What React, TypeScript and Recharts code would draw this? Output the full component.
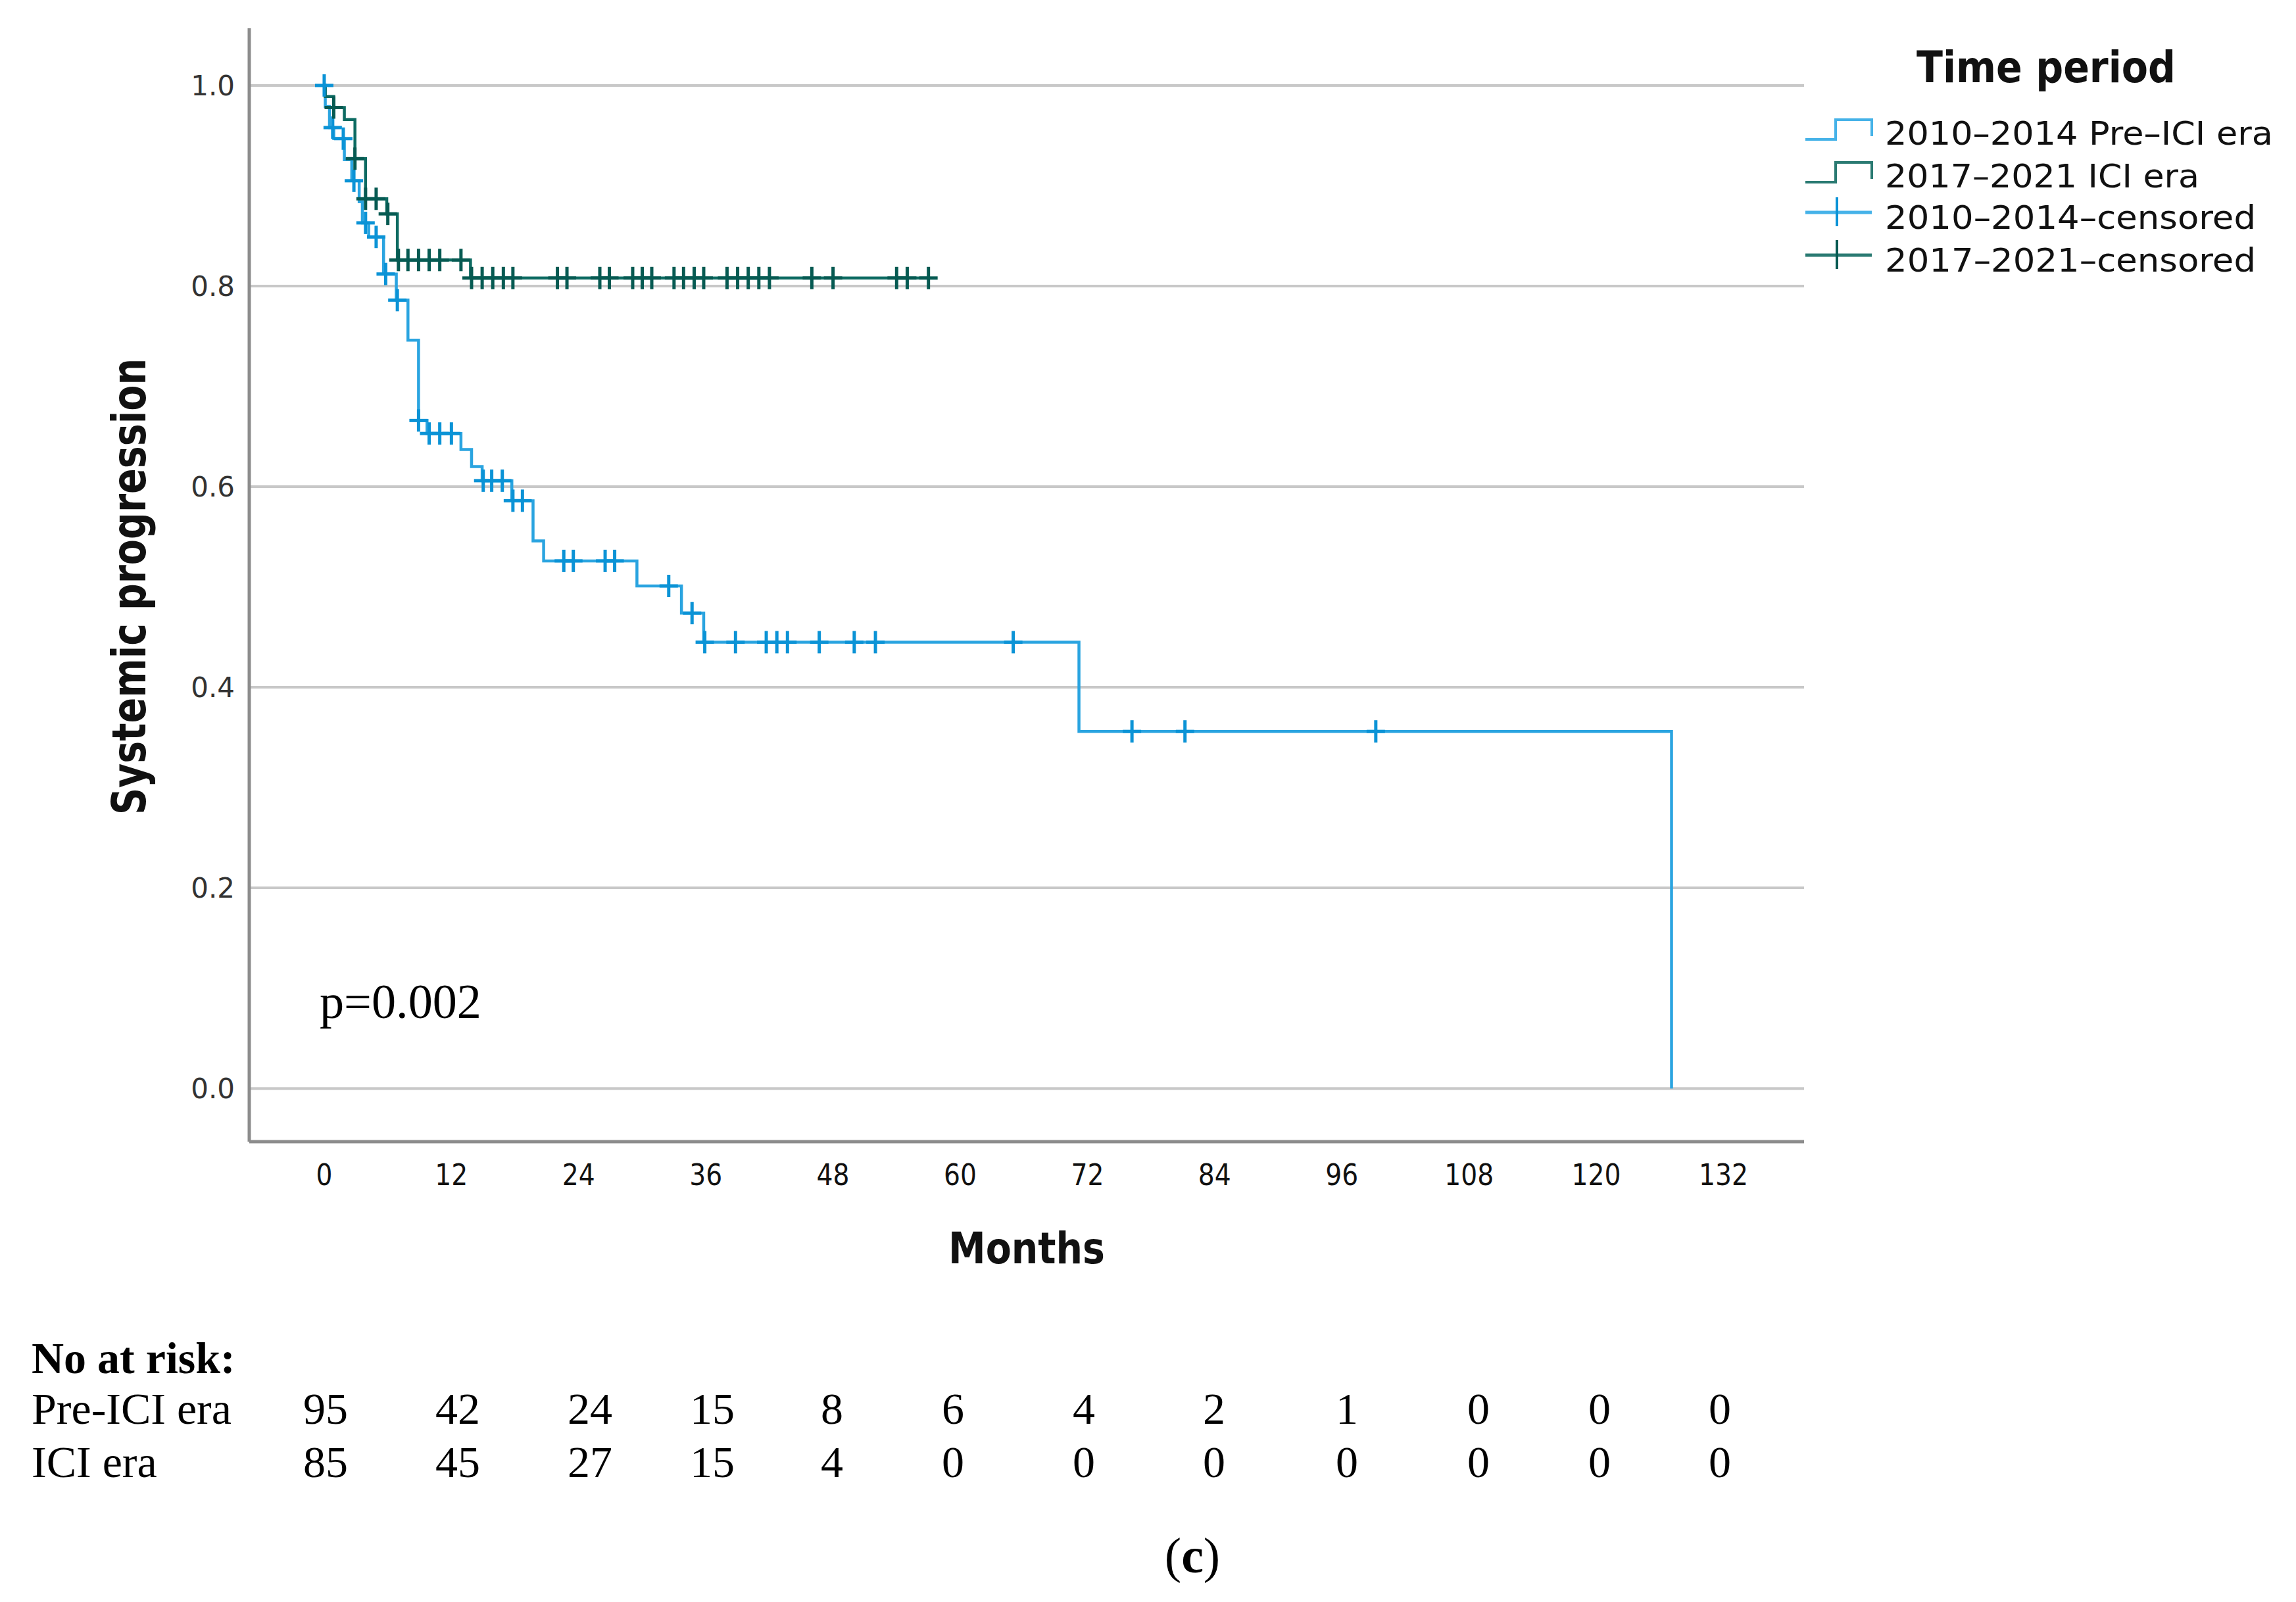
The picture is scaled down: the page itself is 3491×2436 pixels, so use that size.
import { ComposedChart, Line, Scatter, XAxis, YAxis, ReferenceLine, Legend } from 'recharts';

// axis ticks
const monthTicks = [0, 12, 24, 36, 48, 60, 72, 84, 96, 108, 120, 132];
const survivalTicks = [0, 0.2, 0.4, 0.6, 0.8, 1.0];

// 2010-2014 pre-ICI era: step curve
const preIciTimes = [0, 0.1, 0.5, 0.9, 1.9, 2.6, 3.3, 3.6, 4.2, 5.6, 6.8, 7.9, 8.9, 9.7, 12.9, 13.9, 14.9, 17.7, 19.7, 20.7, 29.5, 33.7, 35.8, 71.2, 127.1];
const preIciSurvival = [1.0, 0.979, 0.958, 0.947, 0.926, 0.905, 0.884, 0.863, 0.849, 0.812, 0.786, 0.746, 0.666, 0.653, 0.637, 0.62, 0.606, 0.586, 0.546, 0.526, 0.501, 0.474, 0.445, 0.356, 0.0];

// 2010-2014 censored
const preIciCensorTimes = [0, 0.8, 1.8, 2.8, 3.9, 4.9, 5.8, 6.9, 8.9, 9.9, 10.9, 12.0, 15.0, 15.8, 16.8, 17.8, 18.7, 22.6, 23.5, 26.5, 27.4, 32.5, 34.7, 35.9, 38.8, 41.7, 42.7, 43.7, 46.7, 50.0, 52.0, 65.0, 76.2, 81.2, 99.2];
const preIciCensorSurvival = [1.0, 0.958, 0.947, 0.905, 0.863, 0.849, 0.812, 0.786, 0.666, 0.653, 0.653, 0.653, 0.606, 0.606, 0.606, 0.586, 0.586, 0.526, 0.526, 0.526, 0.526, 0.501, 0.474, 0.445, 0.445, 0.445, 0.445, 0.445, 0.445, 0.445, 0.445, 0.445, 0.356, 0.356, 0.356];

// 2017-2021 ICI era: step curve
const iciTimes = [0, 0.1, 0.9, 1.9, 2.9, 3.9, 5.9, 6.9, 13.8, 57.0];
const iciSurvival = [1.0, 0.989, 0.978, 0.966, 0.927, 0.887, 0.872, 0.826, 0.808, 0.808];

// 2017-2021 censored
const iciCensorTimes = [0.9, 2.9, 3.9, 4.9, 6.0, 7.0, 7.9, 8.9, 9.9, 10.9, 12.9, 13.9, 14.9, 15.9, 16.9, 17.8, 22.0, 22.9, 26.0, 26.9, 29.1, 30.0, 30.9, 33.0, 33.9, 34.9, 35.8, 38.0, 39.0, 40.0, 41.0, 42.0, 46.0, 48.0, 54.0, 55.0, 57.0];
const iciCensorSurvival = [0.978, 0.927, 0.887, 0.887, 0.872, 0.826, 0.826, 0.826, 0.826, 0.826, 0.826, 0.808, 0.808, 0.808, 0.808, 0.808, 0.808, 0.808, 0.808, 0.808, 0.808, 0.808, 0.808, 0.808, 0.808, 0.808, 0.808, 0.808, 0.808, 0.808, 0.808, 0.808, 0.808, 0.808, 0.808, 0.808, 0.808];

// number at risk table
const riskRowLabels = ['Pre-ICI era', 'ICI era'];
const preIciAtRisk = [95, 42, 24, 15, 8, 6, 4, 2, 1, 0, 0, 0];
const iciAtRisk = [85, 45, 27, 15, 4, 0, 0, 0, 0, 0, 0, 0];

const legendLabels = ['2010\u20132014 Pre\u2013ICI era', '2017\u20132021 ICI era', '2010\u20132014\u2013censored', '2017\u20132021\u2013censored'];

const BLUE = '#2aa4e0';
const BLUE_MARK = '#0b93d6';
const TEAL = '#0d6b62';
const TEAL_MARK = '#065a52';
const SANS = '"DejaVu Sans", Verdana, sans-serif';
const SERIF = '"Liberation Serif", "Times New Roman", serif';

const toRows = (times: number[], values: number[]) => times.map((t, i) => ({ t, s: values[i] }));

const preIciRows = toRows(preIciTimes, preIciSurvival);
const preIciCensored = toRows(preIciCensorTimes, preIciCensorSurvival);
const iciRows = toRows(iciTimes, iciSurvival);
const iciCensored = toRows(iciCensorTimes, iciCensorSurvival);

// column centres of the at-risk table (px)
const riskColumnX = [495, 696, 897, 1083, 1265, 1449, 1648, 1846, 2048, 2248, 2432, 2615];

const censorMark = (color: string) => (props: any) => {
    const { cx, cy } = props;
    return (
        <g>
            <line x1={cx - 14} x2={cx + 14} y1={cy} y2={cy} stroke={color} strokeWidth={5} />
            <line x1={cx} x2={cx} y1={cy - 17} y2={cy + 17} stroke={color} strokeWidth={5} />
        </g>
    );
};

const XTick = (props: any) => {
    const label = String(props.payload.value);
    return (
        <text x={props.x} y={1802} textAnchor="middle" fontFamily={SANS} fontSize={44} fill="#111"
            textLength={label.length * 25} lengthAdjust="spacingAndGlyphs">
            {label}
        </text>
    );
};

const YTick = (props: any) => (
    <text x={357} y={props.y + 15} textAnchor="end" fontFamily={SANS} fontSize={42} fill="#333">
        {Number(props.payload.value).toFixed(1)}
    </text>
);

const XTitle = () => (
    <text x={1561} y={1921} textAnchor="middle" fontFamily={SANS} fontWeight="bold" fontSize={65}
        fill="#111" textLength={238} lengthAdjust="spacingAndGlyphs">
        Months
    </text>
);

const YTitle = () => (
    <text x={221} y={892} transform="rotate(-90, 221, 892)" textAnchor="middle" fontFamily={SANS}
        fontWeight="bold" fontSize={72} fill="#111" textLength={694} lengthAdjust="spacingAndGlyphs">
        Systemic progression
    </text>
);

const legendWidths = [590, 478, 564, 564];
const legendBaselines = [180, 245, 308, 373];

const LegendBox = () => (
    <svg width={791} height={420} style={{ overflow: 'visible' }}>
        <text x={411} y={85} textAnchor="middle" fontFamily={SANS} fontWeight="bold" fontSize={66}
            fill="#111" textLength={394} lengthAdjust="spacingAndGlyphs">
            Time period
        </text>
        {legendLabels.map((label, i) => {
            const b = legendBaselines[i];
            const color = i % 2 === 0 ? '#45b2e8' : '#2a7a72';
            return (
                <g key={label}>
                    {i < 2 ? (
                        <polyline points={`45,${b - 8} 91,${b - 8} 91,${b - 38} 146,${b - 38} 146,${b - 13}`}
                            fill="none" stroke={color} strokeWidth={4} />
                    ) : (
                        <g>
                            <line x1={45} x2={146} y1={b - 25} y2={b - 25} stroke={color} strokeWidth={5} />
                            <line x1={93} x2={93} y1={b - 48} y2={b - 4} stroke={i === 2 ? BLUE_MARK : TEAL_MARK} strokeWidth={4} />
                        </g>
                    )}
                    <text x={166} y={b} fontFamily={SANS} fontSize={50} fill="#111"
                        textLength={legendWidths[i]} lengthAdjust="spacingAndGlyphs">
                        {label}
                    </text>
                </g>
            );
        })}
    </svg>
);

export default function App() {
    return (
        <div style={{ position: 'absolute', left: 0, top: 0, width: 3491, height: 2436, background: '#fff' }}>
            <ComposedChart width={3491} height={1960} margin={{ top: 43, right: 748, bottom: 74, left: 0 }}>
                <XAxis type="number" dataKey="t" domain={[-7.07, 139.6]} ticks={monthTicks} interval={0}
                    allowDataOverflow height={150} axisLine={{ stroke: '#8c8c8c', strokeWidth: 5 }}
                    tickLine={false} tickSize={0} tick={XTick} label={XTitle} />
                <YAxis type="number" domain={[-0.053, 1.057]} ticks={survivalTicks} interval={0}
                    allowDataOverflow width={379} axisLine={{ stroke: '#8c8c8c', strokeWidth: 5 }}
                    tickLine={false} tickSize={0} tick={YTick} label={YTitle} />
                {survivalTicks.map((v) => (
                    <ReferenceLine key={v} y={v} stroke="#c8c8c8" strokeWidth={4} />
                ))}
                <Legend layout="vertical" align="center" verticalAlign="middle" width={791} height={420}
                    wrapperStyle={{ left: 2700, top: 40, width: 791, height: 420 }} content={LegendBox} />
                <Line data={preIciRows} dataKey="s" type="stepAfter" stroke={BLUE} strokeWidth={4.5}
                    dot={false} activeDot={false} isAnimationActive={false} />
                <Scatter data={preIciCensored} dataKey="s" shape={censorMark(BLUE_MARK)} isAnimationActive={false} />
                <Line data={iciRows} dataKey="s" type="stepAfter" stroke={TEAL} strokeWidth={4.5}
                    dot={false} activeDot={false} isAnimationActive={false} />
                <Scatter data={iciCensored} dataKey="s" shape={censorMark(TEAL_MARK)} isAnimationActive={false} />
            </ComposedChart>
            <svg width={3491} height={2436} style={{ position: 'absolute', left: 0, top: 0, pointerEvents: 'none' }}>
                <text x={486} y={1548} fontFamily={SERIF} fontSize={75} fill="#000" textLength={246}
                    lengthAdjust="spacingAndGlyphs">
                    p=0.002
                </text>
                <text x={48} y={2088} fontFamily={SERIF} fontWeight="bold" fontSize={68} fill="#000">
                    No at risk:
                </text>
                {[preIciAtRisk, iciAtRisk].map((row, r) => (
                    <g key={riskRowLabels[r]}>
                        <text x={48} y={2165 + r * 81} fontFamily={SERIF} fontSize={68} fill="#000">
                            {riskRowLabels[r]}
                        </text>
                        {row.map((n, i) => (
                            <text key={i} x={riskColumnX[i]} y={2165 + r * 81} textAnchor="middle"
                                fontFamily={SERIF} fontSize={68} fill="#000">
                                {n}
                            </text>
                        ))}
                    </g>
                ))}
                <text x={1813} y={2391} textAnchor="middle" fontFamily={SERIF} fontSize={76} fill="#000">
                    (<tspan fontWeight="bold">c</tspan>)
                </text>
            </svg>
        </div>
    );
}
